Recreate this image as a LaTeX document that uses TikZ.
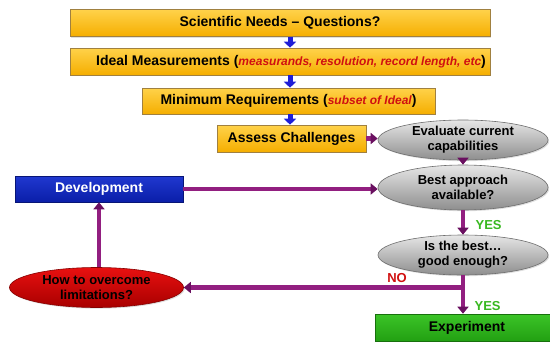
\documentclass[tikz,border=0pt]{standalone}
\usepackage{fontspec}
\setmainfont{Liberation Sans}
\usetikzlibrary{arrows.meta,shapes.geometric,shadows,calc}

\definecolor{goldtop}{HTML}{FFD24A}
\definecolor{goldbot}{HTML}{F5AE00}
\definecolor{goldline}{HTML}{A08040}
\definecolor{greytop}{HTML}{E6E6E6}
\definecolor{greybot}{HTML}{8E8E8E}
\definecolor{greyline}{HTML}{6E6E6E}
\definecolor{redtop}{HTML}{E81010}
\definecolor{redbot}{HTML}{A80000}
\definecolor{bluetop}{HTML}{2038D0}
\definecolor{bluebot}{HTML}{0A1EA8}
\definecolor{greentop}{HTML}{3CC428}
\definecolor{greenbot}{HTML}{22A012}
\definecolor{pshaft}{HTML}{921F80}
\definecolor{phead}{HTML}{6A1060}
\definecolor{barrow}{HTML}{1E1ED8}
\definecolor{noteRed}{HTML}{D01010}
\definecolor{yesGreen}{HTML}{38B820}

% smaller red italic remark inside a requirement box
\newcommand{\remark}[1]{\textcolor{noteRed}{\fontsize{12}{14}\selectfont\itshape #1}}

\tikzset{
  goldbox/.style={rectangle, draw=goldline, line width=0.6pt,
    top color=goldtop, bottom color=goldbot, inner sep=0pt,
    font=\fontsize{14}{16}\selectfont\bfseries,
    drop shadow={opacity=0.25, shadow xshift=1.2pt, shadow yshift=-1.2pt}},
  greyoval/.style={ellipse, draw=greyline, line width=0.6pt,
    top color=greytop, bottom color=greybot, inner sep=0pt, align=center,
    font=\fontsize{13}{15}\selectfont\bfseries,
    drop shadow={opacity=0.25, shadow xshift=1.2pt, shadow yshift=-1.2pt}},
  flowarrow/.style={line width=4.5pt, draw=pshaft,
    -{Triangle[length=7pt,width=11pt,color=phead]}},
  stepdown/.style={line width=5pt, draw=barrow,
    -{Triangle[length=6pt,width=12pt]}},
  answer/.style={font=\fontsize{13}{15}\selectfont\bfseries}
}

\begin{document}
\begin{tikzpicture}[x=1pt,y=-1pt]
  \useasboundingbox (0,0) rectangle (550,341);

  % top chain of requirement boxes
  \node[goldbox, minimum width=420pt, minimum height=27pt] (needs) at (280,23)
    {Scientific Needs -- Questions?};
  \node[goldbox, minimum width=420pt, minimum height=27pt] (ideal) at (280,61.5)
    {\hspace*{22pt}Ideal Measurements (\remark{measurands, resolution, record length, etc})};
  \node[goldbox, minimum width=293pt, minimum height=26pt] (minreq) at (288.5,101)
    {Minimum Requirements (\remark{subset of Ideal})};
  \node[goldbox, minimum width=149pt, minimum height=27pt] (assess) at (291.5,138.5)
    {Assess Challenges};

  % decision ovals
  \node[greyoval, minimum width=170pt, minimum height=40pt] (evaluate) at (463,140)
    {Evaluate current\\capabilities};
  \node[greyoval, minimum width=170pt, minimum height=45pt] (best) at (463,187.5)
    {Best approach\\available?};
  \node[greyoval, minimum width=170pt, minimum height=40pt] (enough) at (463,255)
    {Is the best\ldots\\good enough?};

  % outcome boxes
  \node[rectangle, draw=bluebot!70!black, line width=0.6pt,
        top color=bluetop, bottom color=bluebot, inner sep=0pt,
        minimum width=168pt, minimum height=26pt, text=white,
        font=\fontsize{14}{16}\selectfont\bfseries,
        drop shadow={opacity=0.25, shadow xshift=1.2pt, shadow yshift=-1.2pt}]
        (dev) at (99,189) {Development};
  \node[ellipse, draw=redbot!80!black, line width=0.6pt,
        top color=redtop, bottom color=redbot, inner sep=0pt, align=center,
        minimum width=174pt, minimum height=40pt,
        font=\fontsize{13}{15}\selectfont\bfseries,
        drop shadow={opacity=0.25, shadow xshift=1.2pt, shadow yshift=-1.2pt}]
        (overcome) at (96.5,287.5) {How to overcome\\limitations?};
  \node[rectangle, draw=greenbot!70!black, line width=0.6pt,
        top color=greentop, bottom color=greenbot, inner sep=0pt,
        minimum width=184pt, minimum height=27pt,
        font=\fontsize{14}{16}\selectfont\bfseries]
        (exp) at (467,327.5) {Experiment};

  % column of the small blue step arrows
  \coordinate (stepx) at (290,0);
  \draw[stepdown] (needs.south -| stepx) -- (ideal.north -| stepx);
  \draw[stepdown] (ideal.south -| stepx) -- (minreq.north -| stepx);
  \draw[stepdown] (minreq.south -| stepx) -- (assess.north -| stepx);

  % purple flow
  \draw[flowarrow] (assess.east) -- (assess.east -| evaluate.west);
  \draw[flowarrow] (evaluate.south) -- (best.north);
  \draw[flowarrow] (dev.east) -- (dev.east -| best.west);
  \draw[flowarrow] (best.south) -- (enough.north)
    node[pos=0.6, right=7pt, answer, text=yesGreen] {YES};
  \coordinate (split) at (enough.south |- overcome.east);
  \draw[flowarrow] (enough.south) -- (enough.south |- exp.north)
    node[pos=0.8, right=6pt, answer, text=yesGreen] {YES};
  \draw[flowarrow] (split) -- (overcome.east);
  \node[answer, text=noteRed, anchor=south] (no) at ($(split)+(-66,-1)$) {NO};
  \draw[flowarrow] (dev.south |- overcome.north) -- (dev.south);
\end{tikzpicture}
\end{document}
